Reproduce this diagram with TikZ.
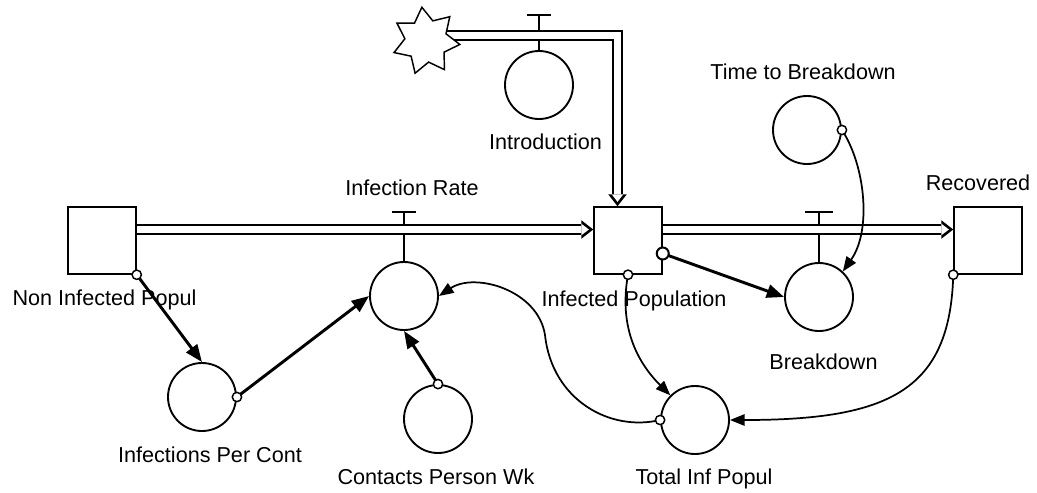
\documentclass[tikz,border=0pt]{standalone}
\usepackage{fontspec}
\setmainfont{Liberation Sans}
\usetikzlibrary{arrows.meta,shapes.geometric,backgrounds,calc}
\begin{document}
\begin{tikzpicture}[x=0.75pt,y=-0.75pt,
 stock/.style={draw,fill=white,line width=1.1pt,minimum width=51pt,minimum height=50.25pt,inner sep=0pt},
 aux/.style={circle,draw,fill=white,line width=1.4pt,minimum size=51pt,inner sep=0pt},
 lbl/.style={font=\fontsize{16.2pt}{19pt}\selectfont,inner sep=0pt,anchor=base},
 dot/.style={circle,draw,fill=white,line width=1.1pt,minimum size=7pt,inner sep=0pt},
 bigdot/.style={dot,minimum size=9pt,line width=1.5pt},
 link/.style={line width=2.2pt,-{Triangle[length=13pt,width=10pt]}},
 curvelink/.style={line width=1.3pt,-{Triangle[length=11pt,width=8.5pt]}},
 stem/.style={line width=1.5pt},
 pipeO/.style={line width=8.8pt,line join=miter,shorten >=8.6pt},
 pipeI/.style={white,line width=4.9pt,line join=miter,shorten >=8.4pt},
 phead/.pic={\fill[black] (0,0) -- (-12,-9.3) -- (-12,9.3) -- cycle; \fill[white] (-4.4,0) -- (-12,-5.8) -- (-12,5.8) -- cycle;}
]
\useasboundingbox (0,0) rectangle (1037,492);

% stocks
\node[stock] (NIP) at (102,240.5) {};
\node[stock] (IP) at (628,240.5) {};
\node[stock] (Rec) at (988,240.5) {};
% source
\node[star,star points=7,star point ratio=1.6,minimum size=51pt,inner sep=0pt,draw,fill=white,line width=1.1pt,shape border rotate=7] (Src) at (426,41) {};
% auxiliaries / rates
\node[aux] (InfRate) at (404,296) {};
\node[aux] (Intro) at (539,85) {};
\node[aux] (TtB) at (807,130) {};
\node[aux] (Brk) at (819,297) {};
\node[aux] (IPC) at (202,397) {};
\node[aux] (CPW) at (438,419) {};
\node[aux] (TIP) at (695,420) {};

% labels
\node[lbl] (lNIP) at (104.5,305.5) {Non Infected Popul};
\node[lbl] (lIP) at (634,306.5) {Infected Population};
\node[lbl] (lInfRate) at (412,195.5) {Infection Rate};
\node[lbl] (lIntro) at (545.5,149.5) {Introduction};
\node[lbl] (lTtB) at (803,79.5) {Time to Breakdown};
\node[lbl] (lRec) at (978,190.5) {Recovered};
\node[lbl] (lBrk) at (823.5,369.5) {Breakdown};
\node[lbl] (lIPC) at (210,462.5) {Infections Per Cont};
\node[lbl] (lCPW) at (436,484.5) {Contacts Person Wk};
\node[lbl] (lTIP) at (704,484.5) {Total Inf Popul};

\coordinate (lane) at (0,229.5);
\coordinate (bend) at (617.5,35.5);
\coordinate (vInf) at (404,212);
\coordinate (vBrk) at (819,212);
\coordinate (vIntro) at (539,15);

\begin{pgfonlayer}{background}
\fill[white] (0,0) rectangle (1037,492);
% valves
\draw[stem] (InfRate.north) -- (vInf);
\draw[stem] (vInf) ++(-12,0) -- ++(24,0);
\draw[stem] (Brk.north) -- (vBrk);
\draw[stem] (vBrk) ++(-14,0) -- ++(28,0);
\draw[stem] (Intro.north) -- (vIntro);
\draw[stem] (vIntro) ++(-12,0) -- ++(24,0);
% pipes
\draw[pipeO] (NIP.center |- lane) -- (IP.west |- lane);
\draw[pipeI] (NIP.center |- lane) -- (IP.west |- lane);
\pic at (IP.west |- lane) {phead};
\draw[pipeO] (IP.center |- lane) -- (Rec.west |- lane);
\draw[pipeI] (IP.center |- lane) -- (Rec.west |- lane);
\pic at (Rec.west |- lane) {phead};
\draw[pipeO] (Src.center |- bend) -- (bend) -- (bend |- IP.north);
\draw[pipeI] (Src.center |- bend) -- (bend) -- (bend |- IP.north);
\pic[rotate=-90] at (bend |- IP.north) {phead};
\end{pgfonlayer}

% connectors
\coordinate (IPr) at ($(IP.south east)!0.31!(IP.north east)$);
\draw[link] (NIP.south east) -- (IPC.north);
\draw[link] (IPC.east) -- (InfRate.west);
\draw[link] (CPW.north) -- (InfRate.south);
\draw[link] (IPr) -- (Brk.west);
\draw[curvelink] (IP.south) .. controls (618,330) and (640,365) .. (TIP.135);
\draw[curvelink] (TtB.east) .. controls (865,165) and (872,230) .. (Brk.47);
\draw[curvelink] (Rec.south west) .. controls (950,390) and (890,420) .. (TIP.east);
\draw[curvelink] (TIP.west) .. controls (610,432) and (552,400) .. (545,335) .. controls (538,290) and (475,272) .. (InfRate.east);

% connector origins
\node[dot] (dNIP) at (NIP.south east) {};
\node[dot] (dIPC) at (IPC.east) {};
\node[dot] (dCPW) at (CPW.north) {};
\node[bigdot] (dIPr) at (IPr) {};
\node[dot] (dIPs) at (IP.south) {};
\node[dot] (dTtB) at (TtB.east) {};
\node[dot] (dRec) at (Rec.south west) {};
\node[dot] (dTIP) at (TIP.west) {};
\end{tikzpicture}
\end{document}
